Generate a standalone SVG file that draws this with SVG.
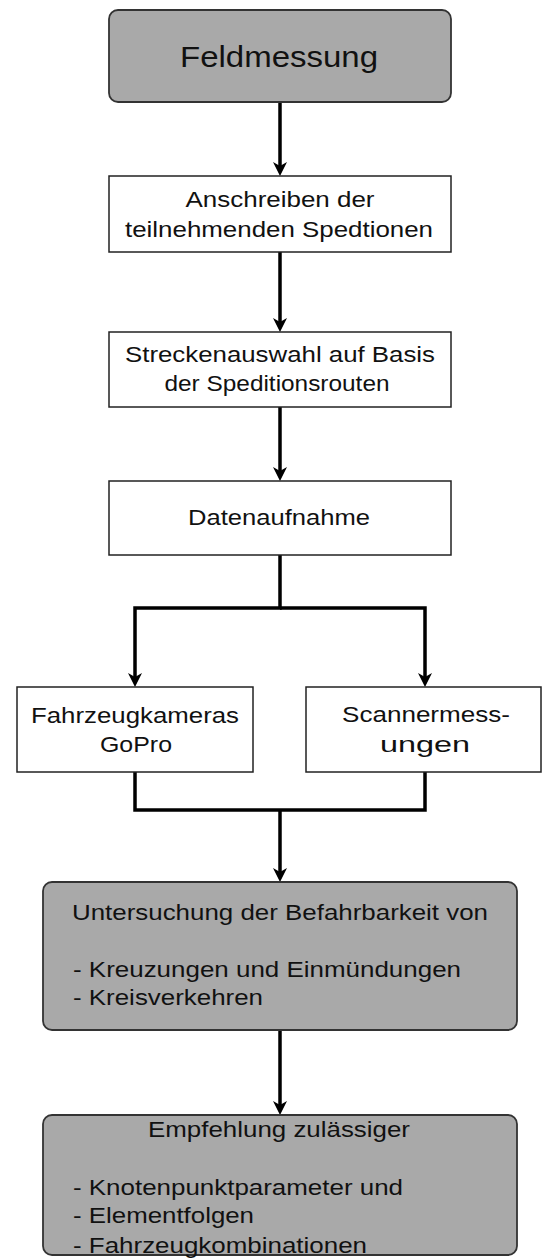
<svg xmlns="http://www.w3.org/2000/svg" width="543" height="1258" viewBox="0 0 543 1258">
<style>
.box{fill:#ffffff;stroke:#222222;stroke-width:1.5}
.gbox{fill:#a9a9a9;stroke:#333333;stroke-width:1.8}
.t{font-family:"Liberation Sans",Arial,sans-serif;font-size:22px;fill:#111111}
.c{text-anchor:middle}
.title{font-size:30px}
.conn{fill:none;stroke:#000000;stroke-width:3.5;stroke-linejoin:miter}
</style>
<defs>
<marker id="arr" markerUnits="userSpaceOnUse" markerWidth="16" markerHeight="16" refX="4" refY="7" orient="auto" viewBox="0 0 16 16">
<path d="M0,0 L14,7 L0,14 L4,7 Z" fill="#000000"/>
</marker>
</defs>
<rect width="543" height="1258" fill="#ffffff"/>
<g id="connectors">
<line class="conn" x1="280" y1="102" x2="280" y2="166" marker-end="url(#arr)"/>
<line class="conn" x1="280" y1="252" x2="280" y2="322" marker-end="url(#arr)"/>
<line class="conn" x1="280" y1="407" x2="280" y2="471" marker-end="url(#arr)"/>
<polyline class="conn" points="280,555 280,608 135,608 135,677" marker-end="url(#arr)"/>
<polyline class="conn" points="280,608 425,608 425,677" marker-end="url(#arr)"/>
<polyline class="conn" points="135,772 135,810 425,810 425,772"/>
<line class="conn" x1="280" y1="810" x2="280" y2="872" marker-end="url(#arr)"/>
<line class="conn" x1="280" y1="1030" x2="280" y2="1105" marker-end="url(#arr)"/>
</g>
<g id="n1">
<rect class="gbox" x="109" y="10" width="342" height="92" rx="9"/>
<text class="t c title" x="279" y="67" textLength="198" lengthAdjust="spacingAndGlyphs">Feldmessung</text>
</g>
<g id="n2">
<rect class="box" x="109" y="176" width="342" height="76"/>
<text class="t c" x="280" y="207" textLength="189" lengthAdjust="spacingAndGlyphs">Anschreiben der</text>
<text class="t c" x="279" y="237" textLength="308" lengthAdjust="spacingAndGlyphs">teilnehmenden Spedtionen</text>
</g>
<g id="n3">
<rect class="box" x="109" y="332" width="342" height="75"/>
<text class="t c" x="280" y="362" textLength="310" lengthAdjust="spacingAndGlyphs">Streckenauswahl auf Basis</text>
<text class="t c" x="277" y="391" textLength="225" lengthAdjust="spacingAndGlyphs">der Speditionsrouten</text>
</g>
<g id="n4">
<rect class="box" x="109" y="481" width="342" height="74"/>
<text class="t c" x="279" y="525" textLength="182" lengthAdjust="spacingAndGlyphs">Datenaufnahme</text>
</g>
<g id="n5">
<rect class="box" x="17" y="687" width="236" height="85"/>
<text class="t c" x="135" y="723" textLength="208" lengthAdjust="spacingAndGlyphs">Fahrzeugkameras</text>
<text class="t c" x="136" y="752" textLength="72" lengthAdjust="spacingAndGlyphs">GoPro</text>
</g>
<g id="n6">
<rect class="box" x="306" y="687" width="235" height="85"/>
<text class="t c" x="426" y="722" textLength="168" lengthAdjust="spacingAndGlyphs">Scannermess-</text>
<text class="t c" x="425" y="752" textLength="90" lengthAdjust="spacingAndGlyphs">ungen</text>
</g>
<g id="n7">
<rect class="gbox" x="43" y="882" width="474" height="148" rx="9"/>
<text class="t c" x="280" y="920" textLength="416" lengthAdjust="spacingAndGlyphs">Untersuchung der Befahrbarkeit von</text>
<text class="t" x="73" y="977" textLength="388" lengthAdjust="spacingAndGlyphs">- Kreuzungen und Einmündungen</text>
<text class="t" x="73" y="1005" textLength="190" lengthAdjust="spacingAndGlyphs">- Kreisverkehren</text>
</g>
<g id="n8">
<rect class="gbox" x="43" y="1115" width="474" height="140" rx="9"/>
<text class="t c" x="279" y="1137" textLength="262" lengthAdjust="spacingAndGlyphs">Empfehlung zulässiger</text>
<text class="t" x="73" y="1195" textLength="330" lengthAdjust="spacingAndGlyphs">- Knotenpunktparameter und</text>
<text class="t" x="73" y="1223" textLength="181" lengthAdjust="spacingAndGlyphs">- Elementfolgen</text>
<text class="t" x="73" y="1253" textLength="294" lengthAdjust="spacingAndGlyphs">- Fahrzeugkombinationen</text>
</g>
</svg>
